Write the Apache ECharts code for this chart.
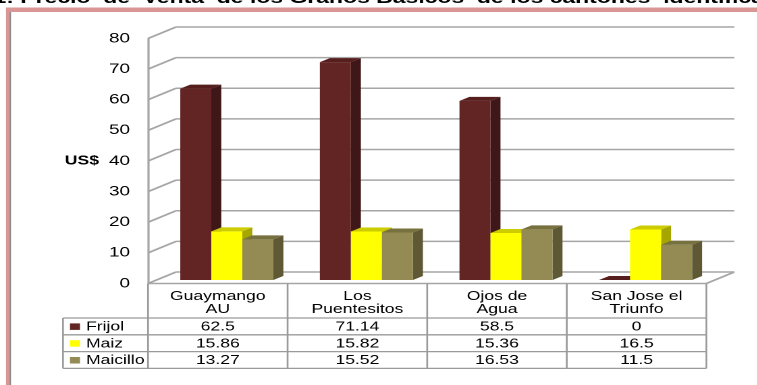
<!DOCTYPE html>
<html>
<head>
<meta charset="utf-8">
<script src="https://cdn.jsdelivr.net/npm/echarts@6/dist/echarts.min.js"></script>
<style>
  html, body { margin: 0; padding: 0; background: #fff; overflow: hidden; }
  #chart { height: 385px; transform-origin: 0 0; }
</style>
</head>
<body>
<div id="chart"></div>
<script>
// Precio de venta (US$) de granos básicos por cantón
const categories = ['Guaymango\nAU', 'Los\nPuentesitos', 'Ojos de\nAgua', 'San Jose el\nTriunfo'];
const seriesNames = ['Frijol', 'Maiz', 'Maicillo'];
const frijol = [62.5, 71.14, 58.5, 0];
const maiz = [15.86, 15.82, 15.36, 16.5];
const maicillo = [13.27, 15.52, 16.53, 11.5];
const yTicks = [0, 10, 20, 30, 40, 50, 60, 70, 80];
const titleText = 'Gráfico 1: Precio  de  Venta  de los Granos Basicos  de los cantones  identificados';

// The drawing is laid out on a narrower canvas and stretched horizontally.
const S = 1.35;
const W = 757 / S;
const hx = v => v / S;

const el = document.getElementById('chart');
el.style.width = W + 'px';
el.style.transform = 'scaleX(' + S + ')';

const FONT = '"Liberation Sans", Arial, sans-serif';
const GRID_LINE = '#a6a6a6';
const TABLE_LINE = '#9a9a9a';

// 3D projection of the floor / back wall
const DEPTH_X = hx(28), DEPTH_Y = 11.5;
const BAR_SHIFT_X = hx(9), BAR_SHIFT_Y = 3.5;
const BAR_SIDE_X = hx(10), BAR_SIDE_Y = 4;
const BAR_FRAC = 31 / 139.5;

// data table rows
const HEADER_H = 34.5, ROW_H = 16.8;
const KEY_COL_W = hx(85);

const palettes = [
  { front: '#632523', side: '#3f1718', top: '#561e1d' },
  { front: '#ffff00', side: '#a6a600', top: '#cccc00' },
  { front: '#948a54', side: '#5e5834', top: '#77703f' }
];
const values = [frijol, maiz, maicillo];

function renderWall(params, api) {
  const v = api.value(1);
  const cs = params.coordSys;
  const y = api.coord([0, v])[1];
  const L = cs.x, R = cs.x + cs.width;
  const st = { stroke: GRID_LINE, lineWidth: 1.6 };
  const kids = [
    { type: 'line', shape: { x1: L, y1: y, x2: L + DEPTH_X, y2: y - DEPTH_Y }, style: st },
    { type: 'line', shape: { x1: L + DEPTH_X, y1: y - DEPTH_Y, x2: R + DEPTH_X, y2: y - DEPTH_Y }, style: st }
  ];
  if (v === 0) {
    kids.push({ type: 'line', shape: { x1: L, y1: y, x2: R, y2: y }, style: st });
    kids.push({ type: 'line', shape: { x1: R, y1: y, x2: R + DEPTH_X, y2: y - DEPTH_Y }, style: st });
  }
  return { type: 'group', children: kids };
}

function makeBarRenderer(k) {
  const pal = palettes[k];
  return function (params, api) {
    const cat = api.value(0);
    const base = api.coord([cat, 0]);
    const top = api.coord([cat, api.value(1)]);
    const band = api.size([1, 0])[0];
    const w = band * BAR_FRAC;
    const x0 = base[0] - 1.5 * w + k * w + BAR_SHIFT_X;
    const yb = base[1] - BAR_SHIFT_Y;
    const yt = top[1] - BAR_SHIFT_Y;
    return {
      type: 'group',
      children: [
        { type: 'polygon', shape: { points: [[x0 + w, yt], [x0 + w + BAR_SIDE_X, yt - BAR_SIDE_Y], [x0 + w + BAR_SIDE_X, yb - BAR_SIDE_Y], [x0 + w, yb]] }, style: { fill: pal.side } },
        { type: 'rect', shape: { x: x0, y: yt, width: w, height: yb - yt }, style: { fill: pal.front } },
        { type: 'polygon', shape: { points: [[x0, yt], [x0 + BAR_SIDE_X, yt - BAR_SIDE_Y], [x0 + w + BAR_SIDE_X, yt - BAR_SIDE_Y], [x0 + w, yt]] }, style: { fill: pal.top } }
      ]
    };
  };
}

function renderTable(params, api) {
  const i = api.value(0);
  const c = api.coord([i, 0]);
  const band = api.size([1, 0])[0];
  const L = c[0] - band / 2, R = c[0] + band / 2;
  const y0 = c[1];
  const rowTops = [y0 + HEADER_H];
  for (let r = 1; r <= seriesNames.length; r++) rowTops.push(y0 + HEADER_H + r * ROW_H);
  const yEnd = rowTops[rowTops.length - 1];
  const st = { stroke: TABLE_LINE, lineWidth: 1.3 };
  const kids = [];
  kids.push({ type: 'line', shape: { x1: L, y1: y0, x2: L, y2: yEnd }, style: st });
  if (i === categories.length - 1) {
    kids.push({ type: 'line', shape: { x1: R, y1: y0, x2: R, y2: yEnd }, style: st });
  }
  rowTops.forEach(function (ry) {
    kids.push({ type: 'line', shape: { x1: L, y1: ry, x2: R, y2: ry }, style: st });
  });
  kids.push({
    type: 'text',
    style: { text: categories[i], x: c[0], y: y0 + HEADER_H / 2 + 2, align: 'center', verticalAlign: 'middle', fontSize: 13, lineHeight: 13, fontFamily: FONT, fill: '#000' }
  });
  values.forEach(function (arr, r) {
    kids.push({
      type: 'text',
      style: { text: String(arr[i]), x: c[0], y: rowTops[r] + ROW_H / 2 + 0.5, align: 'center', verticalAlign: 'middle', fontSize: 13, fontFamily: FONT, fill: '#000' }
    });
  });
  if (i === 0) {
    const KL = L - KEY_COL_W;
    kids.push({ type: 'line', shape: { x1: KL, y1: rowTops[0], x2: KL, y2: yEnd }, style: st });
    rowTops.forEach(function (ry) {
      kids.push({ type: 'line', shape: { x1: KL, y1: ry, x2: L, y2: ry }, style: st });
    });
    seriesNames.forEach(function (name, r) {
      const cy = rowTops[r] + ROW_H / 2;
      kids.push({ type: 'rect', shape: { x: KL + hx(7), y: cy - 3, width: hx(10), height: 6.5 }, style: { fill: palettes[r].front } });
      kids.push({
        type: 'text',
        style: { text: name, x: KL + hx(23), y: cy + 0.5, align: 'left', verticalAlign: 'middle', fontSize: 13, fontFamily: FONT, fill: '#000' }
      });
    });
  }
  return { type: 'group', children: kids };
}

const chart = echarts.init(el, null, { renderer: 'canvas', devicePixelRatio: 2 });

const series = [
  {
    type: 'custom',
    name: 'pared',
    clip: false,
    silent: true,
    renderItem: renderWall,
    data: yTicks.map(function (t) { return [0, t]; }),
    z: 1
  }
];
values.forEach(function (arr, k) {
  series.push({
    type: 'custom',
    name: seriesNames[k],
    clip: false,
    renderItem: makeBarRenderer(k),
    data: arr.map(function (v, i) { return [i, v]; }),
    z: 2
  });
});
series.push({
  type: 'custom',
  name: 'tabla',
  clip: false,
  silent: true,
  renderItem: renderTable,
  data: categories.map(function (c, i) { return [i, 0]; }),
  z: 3
});

chart.setOption({
  animation: false,
  backgroundColor: '#fff',
  grid: { left: hx(148), right: hx(757 - 706), top: 38.5, bottom: 385 - 283.5, containLabel: false },
  xAxis: {
    type: 'category',
    data: categories,
    boundaryGap: true,
    axisLine: { show: false },
    axisTick: { show: false },
    axisLabel: { show: false },
    splitLine: { show: false }
  },
  yAxis: {
    type: 'value',
    min: 0,
    max: 80,
    interval: 10,
    name: 'US$',
    nameLocation: 'middle',
    nameRotate: 0,
    nameGap: hx(49),
    nameTextStyle: { fontFamily: FONT, fontSize: 13, fontWeight: 'bold', color: '#000', align: 'right', verticalAlign: 'middle' },
    axisLine: { show: true, lineStyle: { color: GRID_LINE, width: 1.6 } },
    axisTick: { show: false },
    splitLine: { show: false },
    axisLabel: { margin: hx(18), fontFamily: FONT, fontSize: 14, color: '#000' }
  },
  graphic: [
    // chart frame
    { type: 'rect', shape: { x: hx(6), y: 7.5, width: W, height: 4.5 }, style: { fill: '#d99694' }, silent: true },
    { type: 'rect', shape: { x: hx(6), y: 7.5, width: hx(3.5), height: 400 }, style: { fill: '#d99694' }, silent: true },
    { type: 'rect', shape: { x: hx(9.5), y: 12, width: hx(1.5), height: 400 }, style: { fill: '#8c8c8c' }, silent: true },
    {
      type: 'text',
      x: hx(4) - 72,
      y: 7,
      silent: true,
      style: { text: titleText, font: 'bold 17px ' + FONT, fill: '#000', verticalAlign: 'bottom' }
    }
  ],
  series: series
});
</script>
</body>
</html>
